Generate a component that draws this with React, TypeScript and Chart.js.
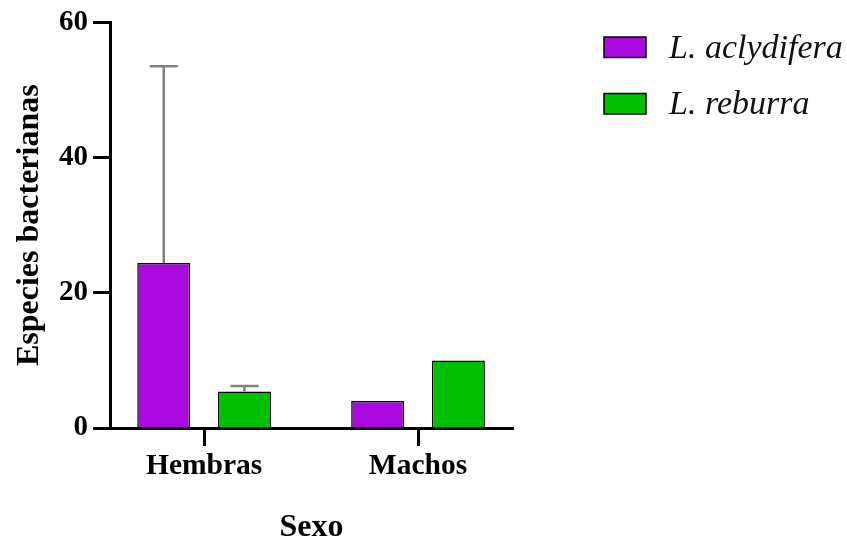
import React, { useEffect, useRef } from "react";
import { Chart, registerables } from "chart.js";

Chart.register(...registerables);

const categories = ["Hembras", "Machos"];
const seriesNames = ["L. aclydifera", "L. reburra"];
const aclydifera = [24.4, 4.0];
const aclydiferaErr = [29.1, 0];
const reburra = [5.4, 10.0];
const reburraErr = [0.8, 0];
const yTicks = [0, 20, 40, 60];

const SERIF = "'Liberation Serif', 'Times New Roman', serif";
const PURPLE = "#AA0AE0";
const GREEN = "#00BE00";

// Upward-only error bars (mean + SD) drawn above each bar
const errorBarPlugin = {
  id: "errorBars",
  afterDatasetsDraw(chart: any) {
    const { ctx } = chart;
    const yScale = chart.scales.y;
    chart.data.datasets.forEach((ds: any, di: number) => {
      const meta = chart.getDatasetMeta(di);
      const errs: number[] = ds.errors || [];
      meta.data.forEach((bar: any, j: number) => {
        const err = errs[j];
        if (!err) return;
        const v = ds.data[j].y;
        const yTop = yScale.getPixelForValue(v + err);
        ctx.save();
        ctx.strokeStyle = "#808080";
        ctx.lineWidth = 2.5;
        ctx.beginPath();
        ctx.moveTo(bar.x, bar.y);
        ctx.lineTo(bar.x, yTop);
        ctx.moveTo(bar.x - 14, yTop);
        ctx.lineTo(bar.x + 14, yTop);
        ctx.stroke();
        ctx.restore();
      });
    });
  },
};

// Legend on the right with boxed swatches and italic species names
const sideLegendPlugin = {
  id: "sideLegend",
  afterDraw(chart: any) {
    const { ctx } = chart;
    const x0 = 604;
    const y0 = 37;
    const rowGap = 56.5;
    chart.data.datasets.forEach((ds: any, i: number) => {
      const y = y0 + i * rowGap;
      ctx.save();
      ctx.fillStyle = ds.backgroundColor;
      ctx.fillRect(x0, y, 42, 20.5);
      ctx.strokeStyle = "#000";
      ctx.lineWidth = 1.5;
      ctx.strokeRect(x0, y, 42, 20.5);
      ctx.fillStyle = "#111";
      ctx.font = `italic 34px ${SERIF}`;
      ctx.textBaseline = "alphabetic";
      ctx.textAlign = "left";
      ctx.fillText(ds.label, 669, y + 20.5);
      ctx.restore();
    });
  },
};

export default function App() {
  const canvasRef = useRef<HTMLCanvasElement | null>(null);

  useEffect(() => {
    if (!canvasRef.current) return;
    const chart = new Chart(canvasRef.current, {
      type: "bar",
      data: {
        datasets: [
          {
            label: seriesNames[0],
            data: categories.map((_, i) => ({ x: i, y: aclydifera[i] })),
            errors: aclydiferaErr,
            backgroundColor: PURPLE,
            borderColor: "#000",
            borderWidth: 1.5,
          } as any,
          {
            label: seriesNames[1],
            data: categories.map((_, i) => ({ x: i, y: reburra[i] })),
            errors: reburraErr,
            backgroundColor: GREEN,
            borderColor: "#000",
            borderWidth: 1.5,
          } as any,
        ],
      },
      options: {
        animation: false,
        responsive: false,
        maintainAspectRatio: false,
        categoryPercentage: 0.755,
        barPercentage: 0.656,
        layout: { padding: { left: 0, right: 334, top: 20, bottom: 0 } },
        plugins: {
          legend: { display: false },
          tooltip: { enabled: false },
        },
        scales: {
          x: {
            type: "linear",
            offset: false,
            min: -0.44,
            max: 1.444,
            afterBuildTicks: (scale: any) => {
              scale.ticks = categories.map((_, i) => ({ value: i }));
            },
            afterFit: (scale: any) => {
              scale.height = 116;
            },
            grid: {
              display: true,
              offset: false,
              drawOnChartArea: false,
              drawTicks: true,
              tickLength: 18,
              tickWidth: 3,
              tickColor: "#000",
            },
            border: { display: true, width: 3, color: "#000" },
            ticks: {
              autoSkip: false,
              maxRotation: 0,
              padding: 3,
              color: "#000",
              font: { family: SERIF, size: 29.5, weight: "bold" },
              callback: (v: any) => categories[Math.round(Number(v))] ?? "",
            },
            title: {
              display: true,
              text: "Sexo",
              color: "#000",
              font: { family: SERIF, size: 32, weight: "bold", lineHeight: 1.0 },
              padding: { top: 0, bottom: 0 },
            },
          },
          y: {
            min: 0,
            max: 60,
            afterBuildTicks: (scale: any) => {
              scale.ticks = yTicks.map((v) => ({ value: v }));
            },
            afterFit: (scale: any) => {
              scale.width = 110;
            },
            grid: {
              display: true,
              drawOnChartArea: false,
              drawTicks: true,
              tickLength: 17,
              tickWidth: 3,
              tickColor: "#000",
            },
            border: { display: true, width: 3, color: "#000" },
            ticks: {
              padding: 5,
              color: "#000",
              font: { family: SERIF, size: 29, weight: "bold" },
            },
            title: {
              display: true,
              text: "Especies bacterianas",
              color: "#000",
              font: { family: SERIF, size: 32, weight: "bold", lineHeight: 1.2 },
              padding: { top: 11, bottom: 0 },
            },
          },
        },
      } as any,
      plugins: [errorBarPlugin, sideLegendPlugin],
    });
    return () => chart.destroy();
  }, []);

  return (
    <div style={{ position: "fixed", left: 0, top: 0, width: 847, height: 544, background: "#fff" }}>
      <canvas ref={canvasRef} width={847} height={544} style={{ display: "block" }} />
    </div>
  );
}
